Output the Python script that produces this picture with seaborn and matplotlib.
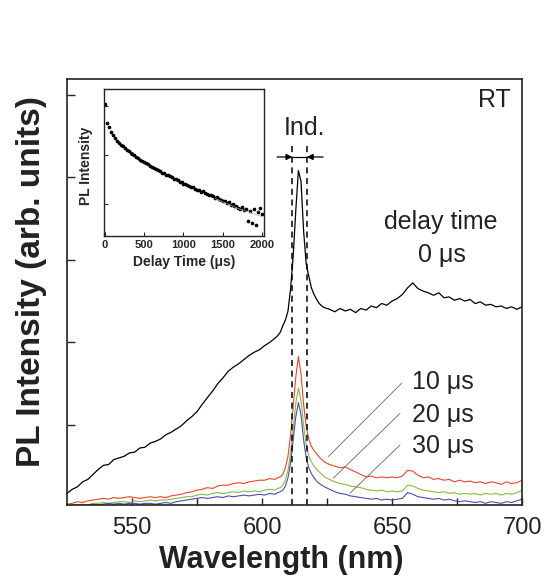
import numpy as np
import pandas as pd
import matplotlib
matplotlib.use("Agg")
import matplotlib.pyplot as plt
import seaborn as sns

# ---------------- data ----------------
wavelength = [525, 527, 529, 531, 533, 535, 537, 539, 541, 543,
              545, 547, 549, 551, 553, 555, 557, 559, 561, 563,
              565, 567, 569, 571, 573, 575, 577, 579, 581, 583,
              585, 587, 589, 591, 593, 595, 597, 599, 601, 603,
              605, 606, 607, 608, 609, 610, 611, 612, 613, 614,
              615, 616, 617, 618, 619, 620, 621, 622, 623, 624,
              626, 628, 630, 632, 634, 636, 638, 640, 642, 644,
              646, 648, 650, 652, 654, 656, 658, 660, 662, 664,
              666, 668, 670, 672, 674, 676, 678, 680, 682, 684,
              686, 688, 690, 692, 694, 696, 698, 700]

pl_0us = [0.17, 0.22, 0.25, 0.31, 0.34, 0.40, 0.46, 0.51, 0.52, 0.58,
          0.60, 0.62, 0.66, 0.67, 0.72, 0.73, 0.78, 0.80, 0.83, 0.88,
          0.91, 0.95, 0.99, 1.05, 1.10, 1.16, 1.25, 1.33, 1.41, 1.50,
          1.57, 1.65, 1.70, 1.74, 1.79, 1.84, 1.88, 1.91, 1.96, 2.00,
          2.05, 2.08, 2.12, 2.20, 2.27, 2.38, 2.65, 3.05, 3.60, 4.08,
          3.95, 3.35, 2.95, 2.80, 2.66, 2.58, 2.52, 2.47, 2.44, 2.42,
          2.40, 2.37, 2.41, 2.38, 2.40, 2.36, 2.41, 2.39, 2.44, 2.42,
          2.47, 2.45, 2.50, 2.53, 2.58, 2.66, 2.72, 2.65, 2.62, 2.60,
          2.57, 2.60, 2.54, 2.55, 2.51, 2.53, 2.50, 2.52, 2.47, 2.49,
          2.45, 2.46, 2.43, 2.44, 2.41, 2.43, 2.40, 2.43]

pl_10us = [0.04, 0.05, 0.07, 0.06, 0.08, 0.09, 0.10, 0.11, 0.10, 0.12,
           0.11, 0.12, 0.13, 0.12, 0.11, 0.12, 0.13, 0.12, 0.13, 0.12,
           0.14, 0.15, 0.16, 0.18, 0.19, 0.21, 0.22, 0.24, 0.23, 0.26,
           0.27, 0.27, 0.29, 0.30, 0.29, 0.31, 0.32, 0.33, 0.33, 0.35,
           0.34, 0.36, 0.37, 0.40, 0.48, 0.62, 0.88, 1.22, 1.58, 1.83,
           1.62, 1.25, 0.98, 0.83, 0.74, 0.69, 0.65, 0.61, 0.58, 0.55,
           0.52, 0.50, 0.48, 0.49, 0.46, 0.43, 0.40, 0.37, 0.38, 0.36,
           0.37, 0.36, 0.37, 0.36, 0.38, 0.45, 0.44, 0.39, 0.36, 0.37,
           0.34, 0.35, 0.33, 0.34, 0.31, 0.33, 0.31, 0.32, 0.30, 0.31,
           0.29, 0.31, 0.30, 0.28, 0.31, 0.29, 0.30, 0.33]

pl_20us = [0.02, 0.03, 0.03, 0.04, 0.03, 0.05, 0.05, 0.06, 0.05, 0.06,
           0.07, 0.07, 0.06, 0.08, 0.07, 0.08, 0.09, 0.08, 0.09, 0.09,
           0.10, 0.11, 0.12, 0.13, 0.13, 0.15, 0.16, 0.15, 0.17, 0.18,
           0.17, 0.18, 0.19, 0.18, 0.20, 0.19, 0.20, 0.19, 0.21, 0.22,
           0.21, 0.23, 0.24, 0.27, 0.33, 0.45, 0.66, 0.96, 1.26, 1.45,
           1.30, 1.00, 0.76, 0.62, 0.55, 0.50, 0.46, 0.43, 0.40, 0.37,
           0.34, 0.31, 0.29, 0.28, 0.26, 0.25, 0.24, 0.22, 0.21, 0.20,
           0.21, 0.19, 0.20, 0.19, 0.20, 0.27, 0.26, 0.23, 0.21, 0.20,
           0.19, 0.18, 0.19, 0.17, 0.18, 0.16, 0.17, 0.16, 0.17, 0.15,
           0.17, 0.16, 0.17, 0.15, 0.17, 0.16, 0.18, 0.21]

pl_30us = [0.02, 0.02, 0.03, 0.02, 0.03, 0.04, 0.03, 0.04, 0.05, 0.04,
           0.05, 0.04, 0.05, 0.05, 0.04, 0.05, 0.05, 0.04, 0.05, 0.06,
           0.05, 0.07, 0.08, 0.09, 0.10, 0.11, 0.12, 0.11, 0.12, 0.13,
           0.12, 0.14, 0.13, 0.14, 0.15, 0.14, 0.15, 0.16, 0.15, 0.17,
           0.16, 0.18, 0.19, 0.21, 0.26, 0.36, 0.54, 0.82, 1.10, 1.27,
           1.12, 0.82, 0.60, 0.48, 0.41, 0.36, 0.32, 0.29, 0.27, 0.25,
           0.22, 0.19, 0.17, 0.16, 0.14, 0.13, 0.12, 0.11, 0.10, 0.11,
           0.09, 0.10, 0.09, 0.10, 0.11, 0.18, 0.16, 0.13, 0.12, 0.11,
           0.10, 0.11, 0.09, 0.10, 0.08, 0.07, 0.08, 0.07, 0.06, 0.07,
           0.05, 0.07, 0.06, 0.05, 0.07, 0.06, 0.08, 0.10]

delay_labels = ["10 μs", "20 μs", "30 μs"]
ind_band = [611.7, 617.2]          # Ind. emission band edges (nm)
x_ticks = [550, 600, 650, 700]

# inset: PL decay
delay_time = [0, 25, 50, 75, 100, 125, 150, 175, 200, 225,
              250, 275, 300, 325, 350, 375, 400, 425, 450, 475,
              500, 525, 550, 575, 600, 625, 650, 675, 700, 725,
              750, 775, 800, 825, 850, 875, 900, 925, 950, 975,
              1000, 1025, 1050, 1075, 1100, 1125, 1150, 1175, 1200, 1225,
              1250, 1275, 1300, 1325, 1350, 1375, 1400, 1425, 1450, 1475,
              1500, 1525, 1550, 1575, 1600, 1625, 1650, 1675, 1700, 1725,
              1750, 1775, 1800, 1825, 1850, 1875, 1900, 1925, 1950, 1975,
              2000]
decay_intensity = [0.90, 0.77, 0.74, 0.71, 0.685, 0.665, 0.65, 0.635, 0.62, 0.61,
                   0.60, 0.585, 0.578, 0.568, 0.56, 0.548, 0.54, 0.53, 0.52, 0.512,
                   0.50, 0.495, 0.49, 0.478, 0.47, 0.465, 0.455, 0.448, 0.44, 0.43,
                   0.428, 0.418, 0.415, 0.405, 0.40, 0.39, 0.385, 0.38, 0.368, 0.37,
                   0.355, 0.35, 0.345, 0.34, 0.33, 0.335, 0.32, 0.31, 0.312, 0.30,
                   0.305, 0.29, 0.285, 0.28, 0.275, 0.27, 0.26, 0.262, 0.25, 0.245,
                   0.24, 0.235, 0.225, 0.232, 0.21, 0.215, 0.20, 0.205, 0.19, 0.185,
                   0.195, 0.175, 0.18, 0.10, 0.17, 0.09, 0.185, 0.075, 0.16, 0.19,
                   0.15]
fit_time = [1400, 1700, 2000]
fit_intensity = [0.255, 0.185, 0.13]

# ---------------- style ----------------
sns.set_style("ticks")
plt.rcParams['font.family'] = ['Liberation Sans', 'DejaVu Sans']
plt.rcParams['axes.linewidth'] = 1.2
plt.rcParams['axes.edgecolor'] = '#222222'

fig = plt.figure(figsize=(5.47, 5.84), dpi=100)
ax = fig.add_axes([0.1225, 0.1353, 0.8318, 0.7295])

c_red, c_green, c_blue = '#ee4527', '#80bf3f', '#4b4bb8'

sns.lineplot(x=wavelength, y=pl_10us, ax=ax, color=c_red, lw=0.8, estimator=None)
sns.lineplot(x=wavelength, y=pl_20us, ax=ax, color=c_green, lw=0.8, estimator=None)
sns.lineplot(x=wavelength, y=pl_30us, ax=ax, color=c_blue, lw=0.8, estimator=None)
sns.lineplot(x=wavelength, y=pl_0us, ax=ax, color='black', lw=0.9, estimator=None)

ax.set_xlim(525, 700)
ax.set_ylim(0.03, 5.19)

ax.set_xticks(x_ticks)
ax.set_xticks([575, 625, 675], minor=True)
ax.set_yticks([1, 2, 3, 4, 5])
ax.set_yticklabels([])
ax.tick_params(axis='x', which='both', direction='in', length=5, width=1,
               labelsize=17, pad=9, colors='#222222')
ax.tick_params(axis='y', which='both', direction='in', length=6, width=1)
for s in ax.spines.values():
    s.set_visible(True)

ax.set_xlabel("Wavelength (nm)", fontsize=22, fontweight='bold', color='#222222')
ax.set_ylabel("PL Intensity (arb. units)", fontsize=24, fontweight='bold', color='#222222')
ax.xaxis.set_label_coords(0.47, -0.095)
ax.yaxis.set_label_coords(-0.045, 0.525)

# Ind. band markers
ax.vlines(ind_band, ymin=0.03, ymax=4.39, colors='black', lw=1.1,
          linestyles=(0, (4, 3)))
ax.plot(ind_band, [4.245, 4.245], color='black', lw=0.9)
ax.annotate('', xy=(ind_band[0], 4.245), xytext=(605.8, 4.245),
            arrowprops=dict(arrowstyle='-|>', color='black', lw=0.9,
                            mutation_scale=9, shrinkA=0, shrinkB=0))
ax.annotate('', xy=(ind_band[1], 4.245), xytext=(623.5, 4.245),
            arrowprops=dict(arrowstyle='-|>', color='black', lw=0.9,
                            mutation_scale=9, shrinkA=0, shrinkB=0))
ax.text(616.2, 4.6, "Ind.", fontsize=18, ha='center', va='center', color='#222222')
ax.text(695.5, 4.94, "RT", fontsize=18, ha='right', va='center', color='#222222')
ax.text(668.8, 3.46, "delay time", fontsize=18, ha='center', va='center', color='#222222')
ax.text(669.2, 3.06, "0 μs", fontsize=18, ha='center', va='center', color='#222222')

# delayed spectra labels with leader lines
label_y = [1.52, 1.12, 0.74]
line_start = [(653.7, 1.505), (653.1, 1.14), (653.1, 0.758)]
line_end = [(625.5, 0.616), (627.4, 0.354), (633.8, 0.172)]
for lbl, ly, (x0, y0), (x1, y1) in zip(delay_labels, label_y, line_start, line_end):
    ax.text(657.8, ly, lbl, fontsize=18, ha='left', va='center', color='#222222')
    ax.plot([x0, x1], [y0, y1], color='#666666', lw=0.6)

# ---------------- inset ----------------
ax_in = fig.add_axes([0.1907, 0.5964, 0.2925, 0.2507])
sns.lineplot(x=fit_time, y=fit_intensity, ax=ax_in, color='#aaaaaa', lw=0.5, estimator=None)
sns.scatterplot(x=delay_time, y=decay_intensity, ax=ax_in, color='black',
                marker='o', s=7, linewidth=0)
ax_in.set_xlim(-9, 2030)
ax_in.set_ylim(0, 1)
ax_in.set_xticks([0, 500, 1000, 1500, 2000])
ax_in.set_yticks([0.214, 0.551, 0.888])
ax_in.set_yticklabels([])
ax_in.tick_params(axis='x', direction='in', length=3, width=0.8, labelsize=8, pad=3)
ax_in.tick_params(axis='y', direction='in', length=3, width=0.8)
for lbl in ax_in.get_xticklabels():
    lbl.set_fontweight('bold')
for s in ax_in.spines.values():
    s.set_linewidth(1.0)
ax_in.set_xlabel("Delay Time (μs)", fontsize=10, fontweight='bold')
ax_in.set_ylabel("PL Intensity", fontsize=10, fontweight='bold')
ax_in.xaxis.set_label_coords(0.5, -0.13)
ax_in.yaxis.set_label_coords(-0.07, 0.48)

fig.savefig("out.png", dpi=100)
